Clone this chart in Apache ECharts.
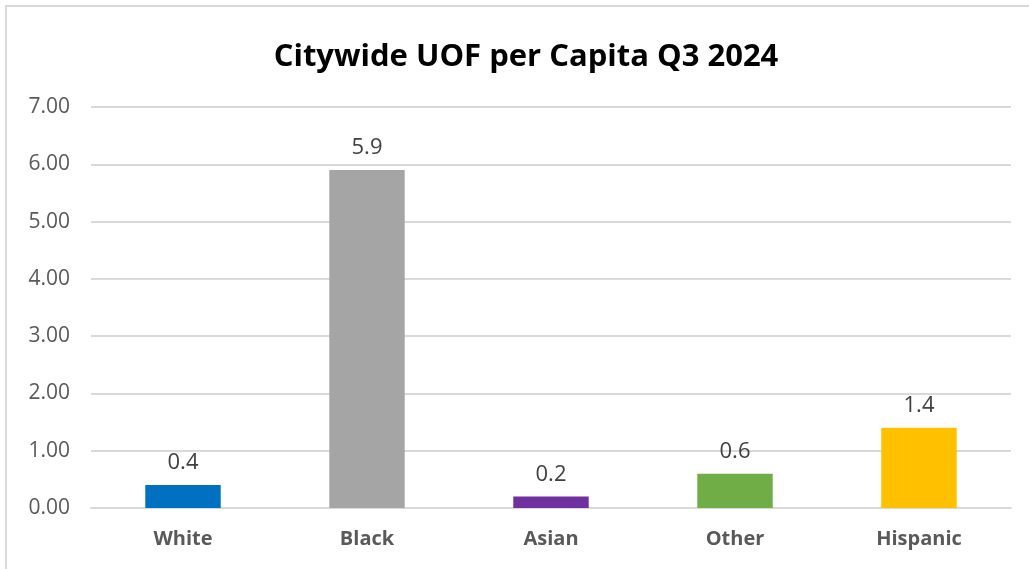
<!DOCTYPE html>
<html>
<head>
<meta charset="utf-8">
<script src="https://cdn.jsdelivr.net/npm/echarts@6/dist/echarts.min.js"></script>
<style>
  html, body { margin: 0; padding: 0; background: #fff; }
  #frame { position: absolute; left: 5px; top: 5px; width: 1030px; height: 570px;
           border-left: 2px solid #D9D9D9; border-top: 2px solid #D9D9D9; }
  #chart { position: absolute; left: 0; top: 0; width: 1029px; height: 569px; }
</style>
</head>
<body>
<div id="frame"></div>
<div id="chart"></div>
<script>
// Use of force per capita, by race / ethnicity
const categories = ['White', 'Black', 'Asian', 'Other', 'Hispanic'];
const values = [0.4, 5.9, 0.2, 0.6, 1.4];
const barColors = ['#0070C0', '#A5A5A5', '#7030A0', '#70AD47', '#FFC000'];
const yTicks = { min: 0, max: 7, interval: 1 };

const chart = echarts.init(document.getElementById('chart'), null, { renderer: 'canvas' });

chart.setOption({
  backgroundColor: 'transparent',
  animation: false,
  title: {
    text: 'Citywide UOF per Capita Q3 2024',
    left: 521,
    top: 37,
    textAlign: 'center',
    textStyle: { fontFamily: 'Open Sans', fontWeight: 'bold', fontSize: 31, color: '#000' }
  },
  grid: { left: 91, right: 18, top: 107, bottom: 61, containLabel: false },
  xAxis: {
    type: 'category',
    data: categories,
    axisLine: { show: true, lineStyle: { color: '#D9D9D9', width: 2 } },
    axisTick: { show: false },
    axisLabel: { color: '#595959', fontFamily: 'Open Sans', fontWeight: 'bold', fontSize: 20, margin: 21 }
  },
  yAxis: {
    type: 'value',
    min: yTicks.min,
    max: yTicks.max,
    interval: yTicks.interval,
    axisLine: { show: false },
    axisTick: { show: false },
    splitLine: { lineStyle: { color: '#D9D9D9', width: 2 } },
    axisLabel: {
      color: '#595959', fontFamily: 'Open Sans', fontSize: 21, margin: 21,
      formatter: v => v.toFixed(2)
    }
  },
  series: [{
    type: 'bar',
    data: values.map((v, i) => ({ value: v, itemStyle: { color: barColors[i] } })),
    barWidth: '41%',
    label: {
      show: true,
      position: 'top',
      distance: 11,
      color: '#404040',
      fontFamily: 'Open Sans',
      fontSize: 22,
      formatter: p => p.value.toFixed(1)
    }
  }]
});
</script>
</body>
</html>
